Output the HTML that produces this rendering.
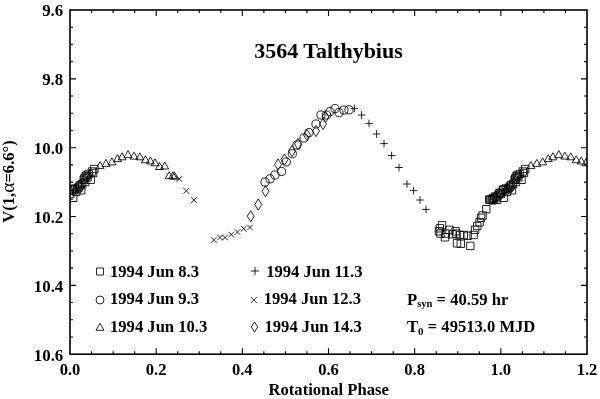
<!DOCTYPE html><html><head><meta charset="utf-8"><title>3564 Talthybius</title>
<style>html,body{margin:0;padding:0;background:#fff}svg{display:block}text{font-family:"Liberation Serif",serif;font-weight:bold;fill:#000}.m{fill:none;stroke:#000;stroke-width:0.85}</style></head><body>
<svg width="600" height="399" viewBox="0 0 600 399">
<rect width="600" height="399" fill="#fff"/>
<rect x="70.0" y="10.0" width="517.0" height="344.2" fill="none" stroke="#000" stroke-width="1.6"/>
<path d="M91.54 354.2v-3M91.54 10.0v3M113.08 354.2v-3M113.08 10.0v3M134.62 354.2v-3M134.62 10.0v3M156.17 354.2v-6M156.17 10.0v6M177.71 354.2v-3M177.71 10.0v3M199.25 354.2v-3M199.25 10.0v3M220.79 354.2v-3M220.79 10.0v3M242.33 354.2v-6M242.33 10.0v6M263.88 354.2v-3M263.88 10.0v3M285.42 354.2v-3M285.42 10.0v3M306.96 354.2v-3M306.96 10.0v3M328.50 354.2v-6M328.50 10.0v6M350.04 354.2v-3M350.04 10.0v3M371.58 354.2v-3M371.58 10.0v3M393.12 354.2v-3M393.12 10.0v3M414.67 354.2v-6M414.67 10.0v6M436.21 354.2v-3M436.21 10.0v3M457.75 354.2v-3M457.75 10.0v3M479.29 354.2v-3M479.29 10.0v3M500.83 354.2v-6M500.83 10.0v6M522.38 354.2v-3M522.38 10.0v3M543.92 354.2v-3M543.92 10.0v3M565.46 354.2v-3M565.46 10.0v3M70.0 27.21h3M587.0 27.21h-3M70.0 44.42h3M587.0 44.42h-3M70.0 61.63h3M587.0 61.63h-3M70.0 78.84h6M587.0 78.84h-6M70.0 96.05h3M587.0 96.05h-3M70.0 113.26h3M587.0 113.26h-3M70.0 130.47h3M587.0 130.47h-3M70.0 147.68h6M587.0 147.68h-6M70.0 164.89h3M587.0 164.89h-3M70.0 182.10h3M587.0 182.10h-3M70.0 199.31h3M587.0 199.31h-3M70.0 216.52h6M587.0 216.52h-6M70.0 233.73h3M587.0 233.73h-3M70.0 250.94h3M587.0 250.94h-3M70.0 268.15h3M587.0 268.15h-3M70.0 285.36h6M587.0 285.36h-6M70.0 302.57h3M587.0 302.57h-3M70.0 319.78h3M587.0 319.78h-3M70.0 336.99h3M587.0 336.99h-3" stroke="#000" stroke-width="1.1" fill="none"/>
<text x="70.0" y="375" font-size="16.6" text-anchor="middle">0.0</text>
<text x="156.2" y="375" font-size="16.6" text-anchor="middle">0.2</text>
<text x="242.3" y="375" font-size="16.6" text-anchor="middle">0.4</text>
<text x="328.5" y="375" font-size="16.6" text-anchor="middle">0.6</text>
<text x="414.7" y="375" font-size="16.6" text-anchor="middle">0.8</text>
<text x="500.8" y="375" font-size="16.6" text-anchor="middle">1.0</text>
<text x="587.0" y="375" font-size="16.6" text-anchor="middle">1.2</text>
<text x="63.3" y="16.4" font-size="16.9" text-anchor="end">9.6</text>
<text x="63.3" y="85.2" font-size="16.9" text-anchor="end">9.8</text>
<text x="63.3" y="154.1" font-size="16.9" text-anchor="end">10.0</text>
<text x="63.3" y="222.9" font-size="16.9" text-anchor="end">10.2</text>
<text x="63.3" y="291.8" font-size="16.9" text-anchor="end">10.4</text>
<text x="63.3" y="360.6" font-size="16.9" text-anchor="end">10.6</text>
<text x="328.5" y="57.8" font-size="22" text-anchor="middle">3564 Talthybius</text>
<text x="328.7" y="394.6" font-size="16.6" text-anchor="middle">Rotational Phase</text>
<text transform="translate(13.8 181.5) rotate(-90)" font-size="16.6" text-anchor="middle">V(1,<tspan font-weight="normal" font-size="19.5">α</tspan>=6.6°)</text>
<text x="110" y="276.5" font-size="16.6">1994 Jun 8.3</text>
<text x="110" y="304.0" font-size="16.6">1994 Jun 9.3</text>
<text x="110" y="332.0" font-size="16.6">1994 Jun 10.3</text>
<text x="266.2" y="276.5" font-size="16.6">1994 Jun 11.3</text>
<text x="263.7" y="304.0" font-size="16.6">1994 Jun 12.3</text>
<text x="264.5" y="332.0" font-size="16.6">1994 Jun 14.3</text>
<text x="407" y="304.6" font-size="16.6">P<tspan font-size="10.6" dy="2.8">syn</tspan><tspan dy="-2.8"> = 40.59 hr</tspan></text>
<text x="407" y="332.0" font-size="16.6">T<tspan font-size="11" dy="2.8">0</tspan><tspan dy="-2.8"> = 49513.0 MJD</tspan></text>
<clipPath id="c"><rect x="70.0" y="10.0" width="517.0" height="344.2"/></clipPath>
<path class="m" clip-path="url(#c)" d="M521.5 165.3h7.4v7.4h-7.4zM519.1 167.8h7.4v7.4h-7.4zM512.8 172.3h7.4v7.4h-7.4zM514.6 173.6h7.4v7.4h-7.4zM510.8 176.1h7.4v7.4h-7.4zM517.8 176.1h7.4v7.4h-7.4zM508.3 186.6h7.4v7.4h-7.4zM502.1 184.8h7.4v7.4h-7.4zM499.1 186.6h7.4v7.4h-7.4zM495.3 189.8h7.4v7.4h-7.4zM500.3 194.1h7.4v7.4h-7.4zM491.6 192.8h7.4v7.4h-7.4zM486.6 196.1h7.4v7.4h-7.4zM493.3 196.1h7.4v7.4h-7.4zM515.8 170.3h7.4v7.4h-7.4zM512.3 178.3h7.4v7.4h-7.4zM509.3 180.3h7.4v7.4h-7.4zM506.3 182.8h7.4v7.4h-7.4zM504.3 185.3h7.4v7.4h-7.4zM503.3 188.3h7.4v7.4h-7.4zM497.3 190.3h7.4v7.4h-7.4zM489.3 194.3h7.4v7.4h-7.4zM520.3 169.3h7.4v7.4h-7.4zM485.5 195.9h7.4v7.4h-7.4zM487.9 195.5h7.4v7.4h-7.4zM490.5 194.9h7.4v7.4h-7.4zM492.7 193.7h7.4v7.4h-7.4zM494.5 191.7h7.4v7.4h-7.4zM488.9 196.7h7.4v7.4h-7.4zM496.7 188.9h7.4v7.4h-7.4zM499.9 185.7h7.4v7.4h-7.4zM505.5 183.9h7.4v7.4h-7.4zM507.5 181.5h7.4v7.4h-7.4zM511.5 174.7h7.4v7.4h-7.4zM513.7 171.9h7.4v7.4h-7.4zM482.6 205.5h7.4v7.4h-7.4zM478.9 211.8h7.4v7.4h-7.4zM477.4 214.1h7.4v7.4h-7.4zM475.9 218.6h7.4v7.4h-7.4zM473.6 222.3h7.4v7.4h-7.4zM471.4 226.1h7.4v7.4h-7.4zM469.9 231.3h7.4v7.4h-7.4zM466.6 242.2h7.4v7.4h-7.4zM457.1 240.1h7.4v7.4h-7.4zM453.3 239.6h7.4v7.4h-7.4zM463.9 232.1h7.4v7.4h-7.4zM460.1 231.3h7.4v7.4h-7.4zM456.3 231.3h7.4v7.4h-7.4zM452.6 229.9h7.4v7.4h-7.4zM448.8 230.6h7.4v7.4h-7.4zM445.8 226.1h7.4v7.4h-7.4zM442.1 229.9h7.4v7.4h-7.4zM441.3 233.6h7.4v7.4h-7.4zM438.3 221.6h7.4v7.4h-7.4zM436.1 224.6h7.4v7.4h-7.4zM435.3 227.6h7.4v7.4h-7.4zM436.8 229.9h7.4v7.4h-7.4zM451.8 227.6h7.4v7.4h-7.4zM90.7 165.3h7.4v7.4h-7.4zM88.3 167.8h7.4v7.4h-7.4zM82.0 172.3h7.4v7.4h-7.4zM83.8 173.6h7.4v7.4h-7.4zM80.0 176.1h7.4v7.4h-7.4zM87.0 176.1h7.4v7.4h-7.4zM77.5 186.6h7.4v7.4h-7.4zM71.3 184.8h7.4v7.4h-7.4zM68.3 186.6h7.4v7.4h-7.4zM69.5 194.1h7.4v7.4h-7.4zM85.0 170.3h7.4v7.4h-7.4zM81.5 178.3h7.4v7.4h-7.4zM78.5 180.3h7.4v7.4h-7.4zM75.5 182.8h7.4v7.4h-7.4zM73.5 185.3h7.4v7.4h-7.4zM72.5 188.3h7.4v7.4h-7.4zM66.5 190.3h7.4v7.4h-7.4zM89.5 169.3h7.4v7.4h-7.4zM69.1 185.7h7.4v7.4h-7.4zM74.7 183.9h7.4v7.4h-7.4zM76.7 181.5h7.4v7.4h-7.4zM80.7 174.7h7.4v7.4h-7.4zM82.9 171.9h7.4v7.4h-7.4zM96.1 168.6L100.1 161.6L104.1 168.6zM102.0 166.4L106.0 159.4L110.0 166.4zM107.9 164.9L111.9 157.9L115.9 164.9zM113.5 161.6L117.5 154.6L121.5 161.6zM118.1 159.8L122.1 152.8L126.1 159.8zM124.0 157.6L128.0 150.6L132.0 157.6zM130.0 159.1L134.0 152.1L138.0 159.1zM135.9 159.8L139.9 152.8L143.9 159.8zM141.4 162.7L145.4 155.7L149.4 162.7zM146.4 164.0L150.4 157.0L154.4 164.0zM151.1 165.8L155.1 158.8L159.1 165.8zM155.5 169.5L159.5 162.5L163.5 169.5zM160.7 169.0L164.7 162.0L168.7 169.0zM165.2 178.7L169.2 171.7L173.2 178.7zM168.9 178.7L172.9 171.7L176.9 178.7zM170.5 179.2L174.5 172.2L178.5 179.2zM526.9 168.6L530.9 161.6L534.9 168.6zM532.8 166.4L536.8 159.4L540.8 166.4zM538.7 164.9L542.7 157.9L546.7 164.9zM544.3 161.6L548.3 154.6L552.3 161.6zM548.9 159.8L552.9 152.8L556.9 159.8zM554.8 157.6L558.8 150.6L562.8 157.6zM560.8 159.1L564.8 152.1L568.8 159.1zM566.7 159.8L570.7 152.8L574.7 159.8zM572.2 162.7L576.2 155.7L580.2 162.7zM577.2 164.0L581.2 157.0L585.2 164.0zM581.9 165.8L585.9 158.8L589.9 165.8zM350.6 108.4h7.6M354.4 104.6v7.6M357.8 115.0h7.6M361.6 111.2v7.6M365.2 123.4h7.6M369.0 119.6v7.6M372.8 134.0h7.6M376.6 130.2v7.6M380.2 143.6h7.6M384.0 139.8v7.6M387.8 155.5h7.6M391.6 151.7v7.6M395.2 167.5h7.6M399.0 163.7v7.6M403.2 184.0h7.6M407.0 180.2v7.6M409.8 190.6h7.6M413.6 186.8v7.6M416.2 200.0h7.6M420.0 196.2v7.6M422.2 209.4h7.6M426.0 205.6v7.6M176.5 176.1l5.6 5.6M176.5 181.7l5.6 -5.6M183.5 188.0l5.6 5.6M183.5 193.6l5.6 -5.6M191.2 197.3l5.6 5.6M191.2 202.9l5.6 -5.6M210.9 237.2l5.6 5.6M210.9 242.8l5.6 -5.6M217.2 234.7l5.6 5.6M217.2 240.3l5.6 -5.6M222.2 234.7l5.6 5.6M222.2 240.3l5.6 -5.6M228.4 231.7l5.6 5.6M228.4 237.3l5.6 -5.6M234.7 229.2l5.6 5.6M234.7 234.8l5.6 -5.6M240.9 225.9l5.6 5.6M240.9 231.6l5.6 -5.6M247.2 224.7l5.6 5.6M247.2 230.3l5.6 -5.6M250.8 210.7L254.2 216.2L250.8 221.8L247.2 216.2zM258.2 198.9L261.8 204.5L258.2 210.1L254.8 204.5zM265.5 185.7L269.0 191.2L265.5 196.8L262.0 191.2zM278.0 158.9L281.5 164.5L278.0 170.1L274.5 164.5zM284.5 153.9L288.0 159.5L284.5 165.1L281.0 159.5zM292.0 145.4L295.5 151.0L292.0 156.6L288.5 151.0zM298.0 138.4L301.5 144.0L298.0 149.6L294.5 144.0zM307.0 129.4L310.5 135.0L307.0 140.6L303.5 135.0zM316.0 125.4L319.5 131.0L316.0 136.6L312.5 131.0zM323.0 118.4L326.5 124.0L323.0 129.6L319.5 124.0zM325.5 111.4L329.0 117.0L325.5 122.6L322.0 117.0z"/>
<g class="m"><circle cx="265.0" cy="182.0" r="4.1"/><circle cx="270.0" cy="178.8" r="4.1"/><circle cx="275.0" cy="175.0" r="4.1"/><circle cx="281.5" cy="171.5" r="4.1"/><circle cx="286.2" cy="162.0" r="4.1"/><circle cx="292.3" cy="153.7" r="4.1"/><circle cx="297.0" cy="145.0" r="4.1"/><circle cx="304.0" cy="138.0" r="4.1"/><circle cx="309.0" cy="132.6" r="4.1"/><circle cx="316.0" cy="124.0" r="4.1"/><circle cx="321.0" cy="115.0" r="4.1"/><circle cx="326.5" cy="115.0" r="4.1"/><circle cx="330.0" cy="111.6" r="4.1"/><circle cx="335.0" cy="108.6" r="4.1"/><circle cx="339.0" cy="112.6" r="4.1"/><circle cx="344.0" cy="110.0" r="4.1"/><circle cx="349.0" cy="109.8" r="4.1"/></g>
<path class="m" d="M96.5 268.0h7.0v7.0h-7.0zM96.0 330.3L100.0 323.3L104.0 330.3zM251.0 271.0h8M255.0 267.0v8M250.8 297.0l6 6M250.8 303.0l6 -6M254.5 322.0L257.7 327.0L254.5 332.0L251.3 327.0z"/>
<circle class="m" cx="100" cy="300" r="4"/>
</svg></body></html>
